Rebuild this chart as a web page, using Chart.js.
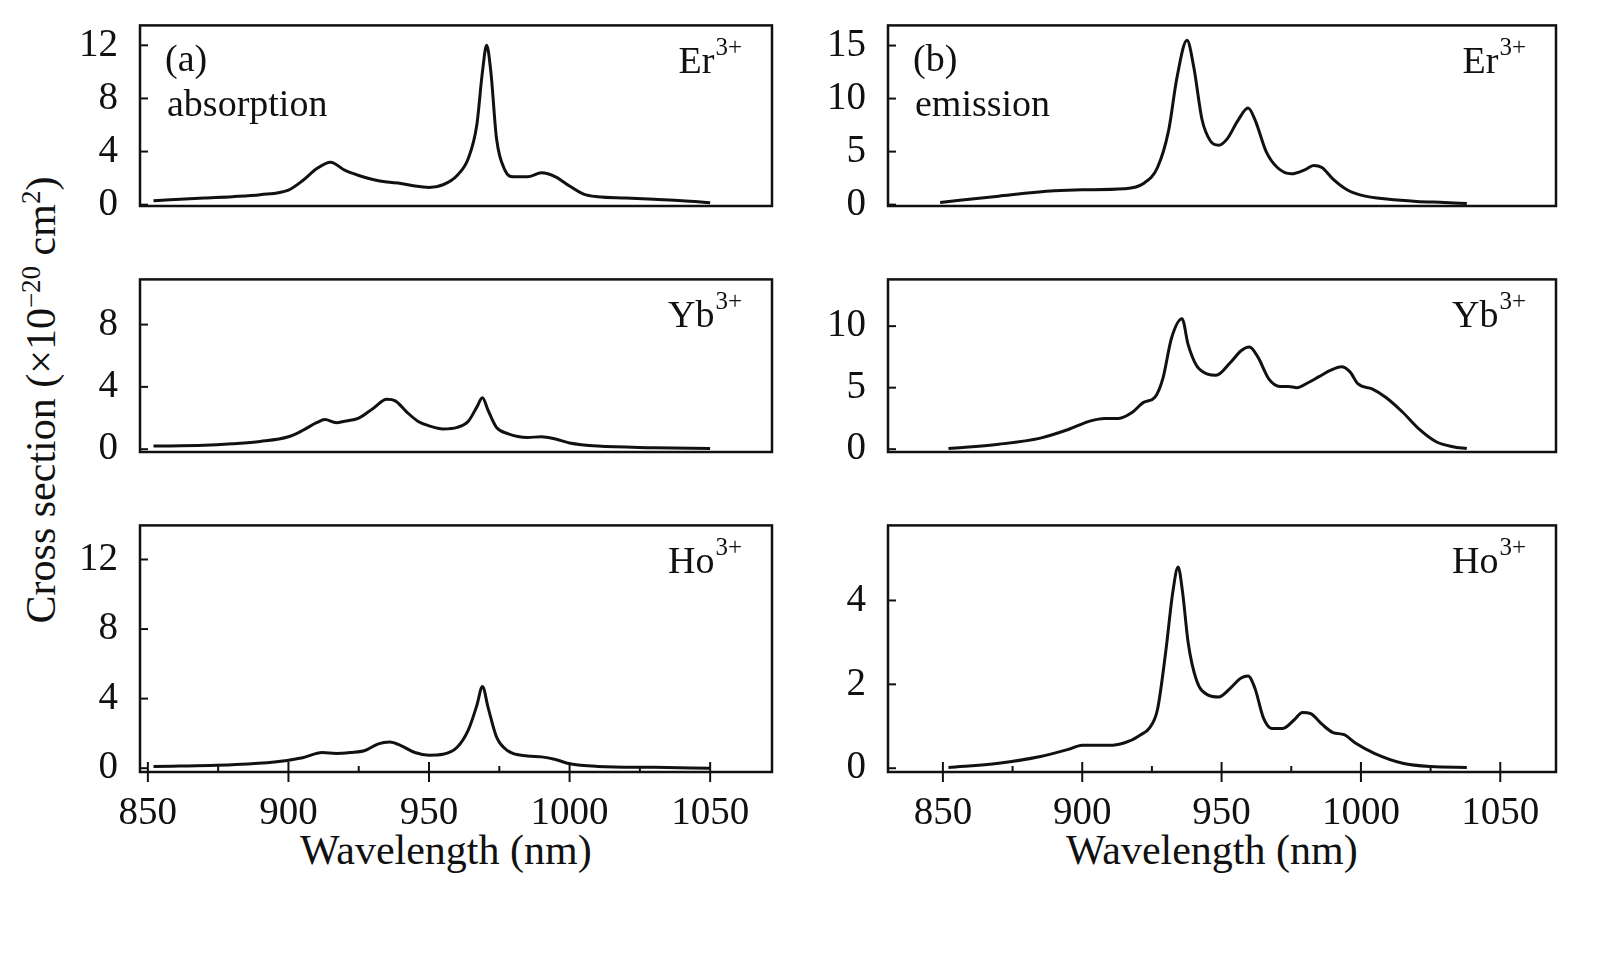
<!DOCTYPE html>
<html>
<head>
<meta charset="utf-8">
<script src="https://cdn.jsdelivr.net/npm/chart.js@4.4.0/dist/chart.umd.min.js"></script>
<style>
  body { margin:0; background:#fff; width:1618px; height:972px; position:relative; overflow:hidden; font-family:"Liberation Serif","DejaVu Serif",serif; }
  canvas { position:absolute; }
  .t { position:absolute; font-size:42px; color:#111; white-space:nowrap; }
</style>
</head>
<body>
<div class="t" style="left:300px;top:826px;">Wavelength (nm)</div>
<div class="t" style="left:1066px;top:826px;">Wavelength (nm)</div>
<div class="t" style="left:40px;top:400px;transform:translate(-50%,-50%) rotate(-90deg);">Cross section (×10<sup style="font-size:27px">−20</sup> cm<sup style="font-size:27px">2</sup>)</div>

<script>
// absorption (left column)
const erAbsX = [852,870,880,890,900,905,910,915,920,925,930,935,940,945,950,955,960,964,967,969,970.5,972,974,977,980,985,990,995,1000,1005,1010,1020,1030,1040,1050];
const erAbsY = [0.3,0.5,0.6,0.75,1.1,1.8,2.7,3.2,2.6,2.2,1.9,1.7,1.6,1.4,1.3,1.5,2.2,3.5,6,10,12,10,5,2.6,2.1,2.1,2.4,2.1,1.4,0.8,0.6,0.5,0.4,0.3,0.15];
const ybAbsX = [852,870,880,890,900,905,910,913,917,920,925,930,935,938,942,946,950,955,960,964,967,969,971,974,978,985,990,995,1000,1010,1030,1050];
const ybAbsY = [0.2,0.25,0.35,0.5,0.8,1.2,1.7,1.9,1.7,1.8,2.0,2.6,3.2,3.1,2.4,1.8,1.5,1.3,1.4,1.8,2.7,3.3,2.5,1.4,1.0,0.75,0.8,0.65,0.4,0.2,0.1,0.05];
const hoAbsX = [852,880,895,905,912,917,922,927,932,936,940,945,950,955,960,964,967,969,971,974,978,985,990,995,1000,1010,1030,1050];
const hoAbsY = [0.1,0.2,0.35,0.6,0.9,0.85,0.9,1.0,1.4,1.5,1.3,0.9,0.75,0.8,1.2,2.2,3.6,4.7,3.5,1.8,1.0,0.7,0.65,0.5,0.25,0.1,0.05,0.0];
// emission (right column)
const erEmX = [849,870,890,900,915,922,927,931,934,937.6,940,943,946,949,952,956,959.5,962,966,970,975,980,983,986,990,995,1000,1010,1020,1030,1038];
const erEmY = [0.2,0.8,1.3,1.4,1.5,2,3.5,7,12,15.5,13,8,6,5.6,6.2,8,9.1,8,5,3.5,2.9,3.3,3.7,3.5,2.4,1.4,0.9,0.5,0.3,0.2,0.1];
const ybEmX = [852,870,885,895,903,908,913,918,922,926,929,932,935.8,938,941,945,948,953,957,960,963,967,971,974,977,981,985,989,993,996,999,1004,1009,1015,1021,1027,1033,1038];
const ybEmY = [0.05,0.4,0.9,1.6,2.3,2.5,2.5,3.0,3.8,4.2,5.8,9,10.6,8.5,6.8,6.1,6.0,7,8,8.3,7.5,5.7,5.1,5.1,5.0,5.4,5.9,6.4,6.7,6.3,5.3,4.9,4.2,3,1.6,0.6,0.2,0.05];
const hoEmX = [852,870,885,895,900,905,911,917,921,924,927,930,932.5,934.4,936,938,941,945,949,953,957,959.5,962,965,968,972,976,979,982,986,990,994,998,1005,1015,1025,1038];
const hoEmY = [0.02,0.12,0.28,0.45,0.55,0.55,0.55,0.65,0.8,0.95,1.4,2.8,4.2,4.8,4.2,3,2.1,1.75,1.7,1.9,2.15,2.2,1.9,1.2,0.95,0.95,1.15,1.33,1.3,1.05,0.85,0.8,0.6,0.35,0.12,0.04,0.02];
const xTicks = [850,900,950,1000,1050];

const PAD = 24, RPAD = 50, YW = 80;
const ink = '#111';
const serif = '"Liberation Serif", serif';

const framePlugin = {
  id: 'frame',
  afterDraw(chart) {
    const o = chart.options.plugins.frame;
    const a = chart.chartArea, ctx = chart.ctx;
    ctx.save();
    ctx.strokeStyle = ink; ctx.lineWidth = 2.5;
    ctx.strokeRect(a.left, a.top, a.right - a.left, a.bottom - a.top);
    ctx.lineWidth = 2;
    const ys = chart.scales.y;
    ys.ticks.forEach(t => {
      const py = ys.getPixelForValue(t.value);
      ctx.beginPath(); ctx.moveTo(a.left, py); ctx.lineTo(a.left + 8, py); ctx.stroke();
    });
    if (o.bottom) {
      const xs = chart.scales.x;
      xTicks.forEach(v => {
        const px = xs.getPixelForValue(v);
        ctx.beginPath(); ctx.moveTo(px, a.bottom - 10); ctx.lineTo(px, a.bottom + 10); ctx.stroke();
        if (v < 1050) {
          const pm = xs.getPixelForValue(v + 25);
          ctx.beginPath(); ctx.moveTo(pm, a.bottom - 6); ctx.lineTo(pm, a.bottom); ctx.stroke();
        }
      });
    }
    ctx.fillStyle = ink;
    ctx.font = '25px ' + serif;
    const supW = ctx.measureText(o.sup).width;
    const sx = a.right - 30 - supW;
    ctx.fillText(o.sup, sx, a.top + 30);
    ctx.font = '38px ' + serif;
    ctx.textAlign = 'right';
    ctx.fillText(o.ion, sx - 1, a.top + 48);
    ctx.textAlign = 'left';
    if (o.tag) ctx.fillText(o.tag, a.left + 25, a.top + 46);
    if (o.note) ctx.fillText(o.note, a.left + 27, a.top + 91);
    ctx.restore();
  }
};

function panel(opts) {
  const bottom = !!opts.bottom;
  const c = document.createElement('canvas');
  const w = opts.plotW + YW + RPAD;
  const h = PAD + opts.plotH + (bottom ? 60 : 0) + PAD;
  c.width = w; c.height = h;
  c.style.left = (opts.plotL - YW) + 'px';
  c.style.top = (opts.plotT - PAD) + 'px';
  c.style.width = w + 'px'; c.style.height = h + 'px';
  document.body.appendChild(c);
  const pts = opts.xs.map((x, i) => ({ x: x, y: opts.ys[i] }));
  const step = opts.step;
  new Chart(c, {
    type: 'line',
    data: { datasets: [{ data: pts, borderColor: ink, borderWidth: 3, pointRadius: 0, cubicInterpolationMode: 'monotone', fill: false }] },
    options: {
      responsive: false, animation: false,
      layout: { padding: { top: PAD, bottom: PAD, left: 0, right: RPAD } },
      plugins: {
        legend: { display: false }, tooltip: { enabled: false },
        frame: { bottom: bottom, ion: opts.ion, sup: '3+', tag: opts.tag, note: opts.note }
      },
      scales: {
        x: {
          type: 'linear', min: opts.xmin, max: opts.xmax, display: bottom,
          afterBuildTicks: s => { s.ticks = xTicks.map(v => ({ value: v })); },
          afterFit: s => { s.height = 60; },
          grid: { display: false }, border: { display: false },
          ticks: { color: ink, padding: 10, font: { size: 39, family: serif }, callback: v => String(v) }
        },
        y: {
          min: opts.ymin, max: opts.ymax,
          afterBuildTicks: s => {
            const t = [];
            for (let v = 0; v <= opts.ymax; v += step) t.push({ value: v });
            s.ticks = t;
          },
          afterFit: s => { s.width = YW; },
          grid: { display: false }, border: { display: false },
          ticks: { color: ink, padding: 14, font: { size: 39, family: serif }, callback: v => String(v) }
        }
      }
    },
    plugins: [framePlugin]
  });
}

const L = { plotL: 140, plotW: 632, xmin: 847.2, xmax: 1072 };
const R = { plotL: 888, plotW: 668, xmin: 830.3, xmax: 1070 };

panel({ ...L, plotT: 12, plotH: 254, xs: erAbsX, ys: erAbsY, ymin: -0.1, ymax: 13.5, step: 4, ion: 'Er', tag: '(a)', note: 'absorption' });
panel({ ...L, plotT: 266, plotH: 246, xs: ybAbsX, ys: ybAbsY, ymin: -0.18, ymax: 10.9, step: 4, ion: 'Yb' });
panel({ ...L, plotT: 512, plotH: 260, xs: hoAbsX, ys: hoAbsY, ymin: -0.22, ymax: 13.96, step: 4, ion: 'Ho', bottom: true });
panel({ ...R, plotT: 12, plotH: 254, xs: erEmX, ys: erEmY, ymin: -0.13, ymax: 16.9, step: 5, ion: 'Er', tag: '(b)', note: 'emission' });
panel({ ...R, plotT: 266, plotH: 246, xs: ybEmX, ys: ybEmY, ymin: -0.23, ymax: 13.8, step: 5, ion: 'Yb' });
panel({ ...R, plotT: 512, plotH: 260, xs: hoEmX, ys: hoEmY, ymin: -0.09, ymax: 5.79, step: 2, ion: 'Ho', bottom: true });
</script>
</body>
</html>
